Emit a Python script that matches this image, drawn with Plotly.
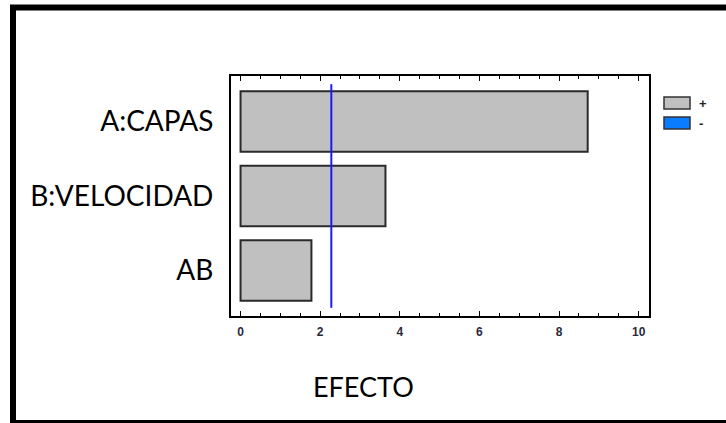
import plotly.graph_objects as go

# Standardized effects (Pareto chart)
factors = ["AB", "B:VELOCIDAD", "A:CAPAS"]
effects = [1.78, 3.64, 8.72]
threshold = 2.28
x_ticks = [0, 2, 4, 6, 8, 10]
legend_labels = ["+", "-"]
legend_colors = ["#c0c0c0", "#0a7cff"]

W, H = 726, 423
L, R, T, B = 231, 77, 76, 107
pw, ph = W - L - R, H - T - B


def px_x(px):
    return (px - L) / pw


def px_y(py):
    return (H - B - py) / ph


ypos = list(range(len(factors)))

fig = go.Figure()
fig.add_trace(go.Bar(
    x=effects, y=ypos, orientation="h", width=0.81,
    marker=dict(color=legend_colors[0], line=dict(color="#2a2a2a", width=2)),
    showlegend=False, hoverinfo="x+y",
))
# significance threshold line
fig.add_trace(go.Scatter(
    x=[threshold, threshold], y=[-0.5, 2.5], mode="lines",
    line=dict(color="#1a1aff", width=2), showlegend=False, hoverinfo="skip",
))

fig.update_xaxes(
    range=[-0.24, 10.26], tickvals=x_ticks, ticks="inside", ticklen=5,
    tickcolor="black", tickwidth=1, mirror="ticks", showline=True,
    linecolor="black", linewidth=2, showgrid=False, zeroline=False,
    ticklabelstandoff=4,
    tickfont=dict(family="Liberation Sans", size=12, color="#2a2a3a", weight="bold"),
    minor=dict(dtick=0.5, ticks="inside", ticklen=3, tickcolor="black", showgrid=False),
    fixedrange=True,
)
fig.update_yaxes(
    range=[-0.61, 2.61], tickvals=ypos, ticktext=factors, ticks="",
    mirror=True, showline=True, linecolor="black", linewidth=2,
    showgrid=False, zeroline=False, ticklabelstandoff=10,
    tickfont=dict(family="Lato", size=28, color="#000000"),
    fixedrange=True,
)

shapes = [
    # outer frame
    dict(type="rect", xref="paper", yref="paper",
         x0=px_x(13), x1=px_x(760), y0=px_y(423), y1=px_y(7.5),
         line=dict(color="black", width=6), layer="above"),
]
annotations = [
    dict(text="EFECTO", xref="paper", yref="paper", x=px_x(363), y=px_y(386),
         showarrow=False, font=dict(family="Lato", size=27, color="#000000"),
         xanchor="center", yanchor="middle"),
]
# legend key boxes
for i, (lab, col) in enumerate(zip(legend_labels, legend_colors)):
    y0, y1 = 97 + 20 * i, 109 + 20 * i
    shapes.append(dict(type="rect", xref="paper", yref="paper",
                       x0=px_x(664), x1=px_x(690), y0=px_y(y1), y1=px_y(y0),
                       fillcolor=col, line=dict(color="#333333", width=1.5)))
    annotations.append(dict(text=lab, xref="paper", yref="paper",
                            x=px_x(697), y=px_y((y0 + y1) / 2), showarrow=False,
                            xanchor="left", yanchor="middle",
                            font=dict(family="Liberation Sans", size=13,
                                      color="#222222", weight="bold")))

fig.update_layout(
    width=W, height=H, margin=dict(l=L, r=R, t=T, b=B),
    paper_bgcolor="white", plot_bgcolor="white",
    shapes=shapes, annotations=annotations, showlegend=False,
)

fig.write_html("out.html", config={"displayModeBar": False})
